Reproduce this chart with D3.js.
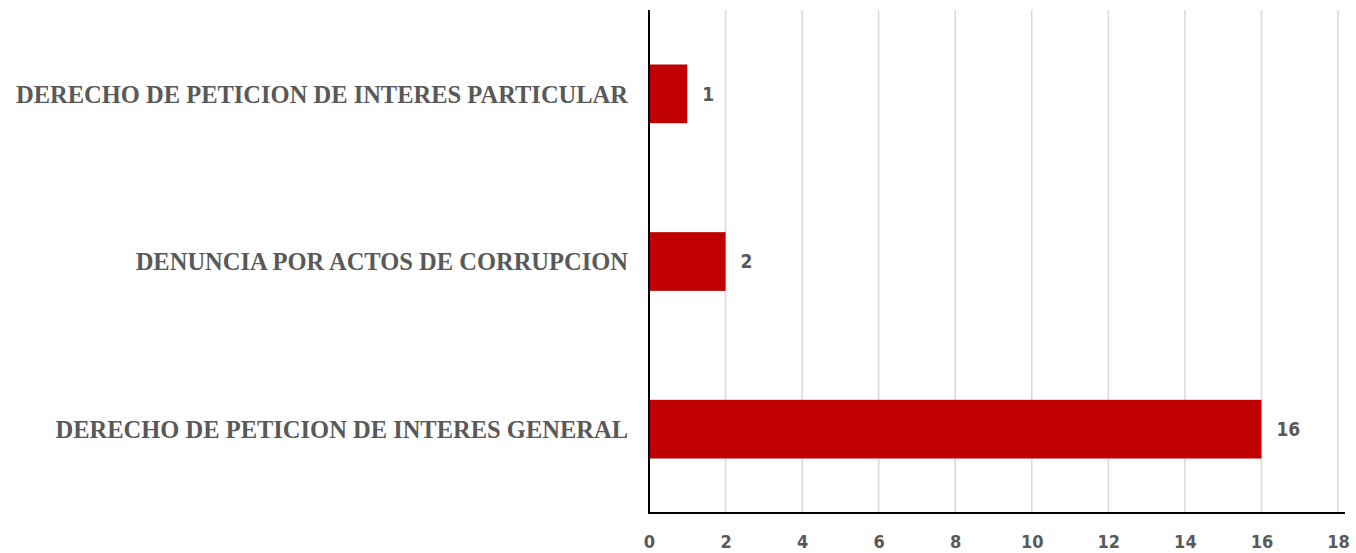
<!DOCTYPE html>
<html>
<body>
    <style>
        body, html { margin: 0; padding: 0; background: #fff; }
    </style>

    <svg width="1356" height="553"></svg>

    <script src="https://cdnjs.cloudflare.com/ajax/libs/d3/7.8.5/d3.min.js"></script>

    <script>
        var categories = [
            "DERECHO DE PETICION DE INTERES PARTICULAR",
            "DENUNCIA POR ACTOS DE CORRUPCION",
            "DERECHO DE PETICION DE INTERES GENERAL"
        ];
        var values = [1, 2, 16];
        var ticks = [0, 2, 4, 6, 8, 10, 12, 14, 16, 18];

        var barColor = "#C00000";
        var gridColor = "#D9D9D9";
        var textColor = "#595959";

        var svg = d3.select("svg");

        var x = d3.scaleLinear().domain([0, 18]).range([649, 1338]);
        var y = d3.scaleBand().domain(categories).range([10, 513]).paddingInner(0.65).paddingOuter(0.325);

        // GRID
        svg.append("g").selectAll("line")
            .data(ticks.filter(function (d) { return d > 0; }))
            .enter().append("line")
            .attr("x1", function (d) { return x(d); })
            .attr("x2", function (d) { return x(d); })
            .attr("y1", 10).attr("y2", 513)
            .attr("stroke", gridColor)
            .attr("stroke-width", 1.5);

        // BARS
        svg.append("g").selectAll("rect")
            .data(values)
            .enter().append("rect")
            .attr("x", x(0))
            .attr("y", function (d, i) { return y(categories[i]); })
            .attr("width", function (d) { return x(d) - x(0); })
            .attr("height", y.bandwidth())
            .attr("fill", barColor);

        // VALUE LABELS
        svg.append("g").selectAll("text")
            .data(values)
            .enter().append("text")
            .attr("x", function (d) { return x(d) + 15; })
            .attr("y", function (d, i) { return y(categories[i]) + y.bandwidth() / 2; })
            .attr("dy", "0.36em")
            .attr("fill", textColor)
            .style("font", "bold 19px 'DejaVu Sans Condensed', 'DejaVu Sans', sans-serif")
            .text(function (d) { return d; });

        // AXES
        var xAxis = svg.append("g")
            .attr("transform", "translate(0,513)")
            .call(d3.axisBottom(x).tickValues(ticks).tickSize(0).tickPadding(22));
        xAxis.select(".domain").attr("stroke", "#000").attr("stroke-width", 2).attr("d", "M649,0H1345");
        xAxis.selectAll("text")
            .attr("fill", textColor)
            .style("font", "bold 18px 'DejaVu Sans Condensed', 'DejaVu Sans', sans-serif");

        var yAxis = svg.append("g")
            .attr("transform", "translate(649,0)")
            .call(d3.axisLeft(y).tickSize(0).tickPadding(21));
        yAxis.select(".domain").attr("stroke", "#000").attr("stroke-width", 2).attr("d", "M0,10V514");
        yAxis.selectAll("text")
            .attr("fill", textColor)
            .attr("dy", "0.36em")
            .style("font", "bold 24.5px 'Liberation Serif', serif");
    </script>
</body>
</html>
